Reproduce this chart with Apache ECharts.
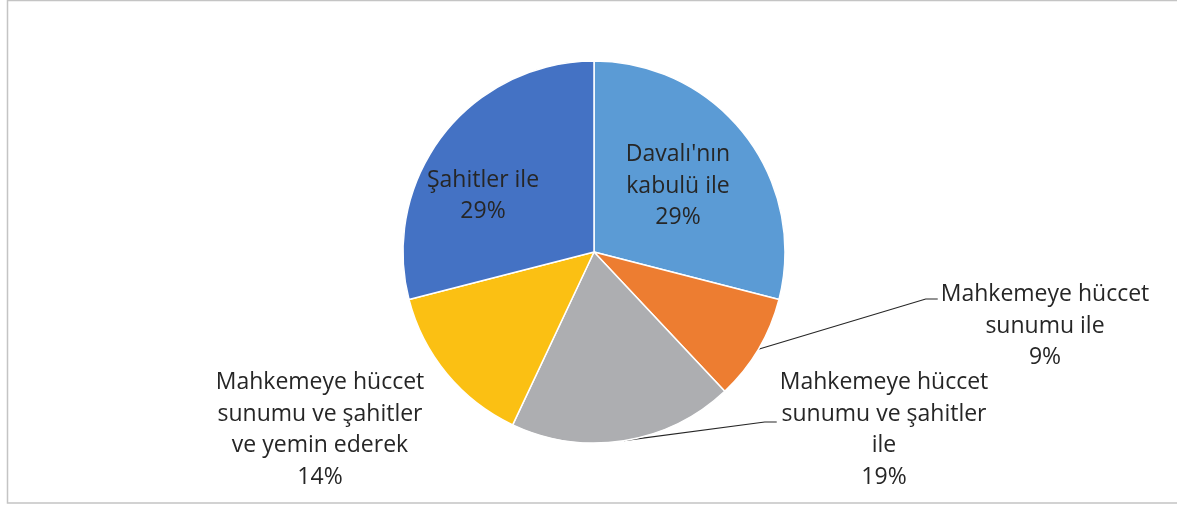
<!DOCTYPE html>
<html>
<head>
<meta charset="utf-8">
<script src="https://cdn.jsdelivr.net/npm/echarts@6/dist/echarts.min.js"></script>
<style>html,body{margin:0;padding:0;background:#fff;}#chart{width:1177px;height:506px;}</style>
</head>
<body>
<div id="chart"></div>
<script>
const categories = [
  "Davalı'nın\nkabulü ile",
  "Mahkemeye hüccet\nsunumu ile",
  "Mahkemeye hüccet\nsunumu ve şahitler\nile",
  "Mahkemeye hüccet\nsunumu ve şahitler\nve yemin ederek",
  "Şahitler ile"
];
const values = [29, 9, 19, 14, 29];
const colors = ['#5B9BD5', '#ED7D31', '#ADAEB1', '#FBC013', '#4472C4'];

// label layout (positions only)
const labelCenters = [[678, 186], [1045, 326], [884, 430], [320, 430], [483, 196]];
const leaderOffsets = { 1: -27, 2: -8 };

const chart = echarts.init(document.getElementById('chart'));
chart.setOption({
  animation: false,
  backgroundColor: '#fff',
  graphic: [{
    type: 'rect', silent: true,
    shape: { x: 7.5, y: 0.5, width: 1200, height: 502.5 },
    style: { fill: 'none', stroke: '#C4C4C4', lineWidth: 1.5 }
  }],
  series: [{
    type: 'pie',
    center: [594, 252],
    radius: 191,
    startAngle: 90,
    clockwise: true,
    avoidLabelOverlap: false,
    itemStyle: { borderColor: '#fff', borderWidth: 1.5 },
    label: {
      show: true,
      position: 'outside',
      formatter: p => p.name + '\n' + p.value + '%',
      fontFamily: 'Open Sans',
      fontSize: 23,
      lineHeight: 31.5,
      color: '#262626',
      align: 'center'
    },
    labelLine: { show: true, lineStyle: { color: '#262626', width: 1.2 } },
    labelLayout: function (params) {
      const i = params.dataIndex;
      const c = labelCenters[i];
      const out = { x: c[0], y: c[1], align: 'center', verticalAlign: 'middle' };
      if (leaderOffsets[i] !== undefined && params.labelLinePoints) {
        const left = c[0] - params.labelRect.width / 2 - 3;
        const ly = c[1] + leaderOffsets[i];
        out.labelLinePoints = [params.labelLinePoints[0], [left - 12, ly], [left, ly]];
      }
      return out;
    },
    data: values.map((v, i) => ({
      name: categories[i],
      value: v,
      itemStyle: { color: colors[i] },
      labelLine: { show: leaderOffsets[i] !== undefined }
    }))
  }]
});
</script>
</body>
</html>
